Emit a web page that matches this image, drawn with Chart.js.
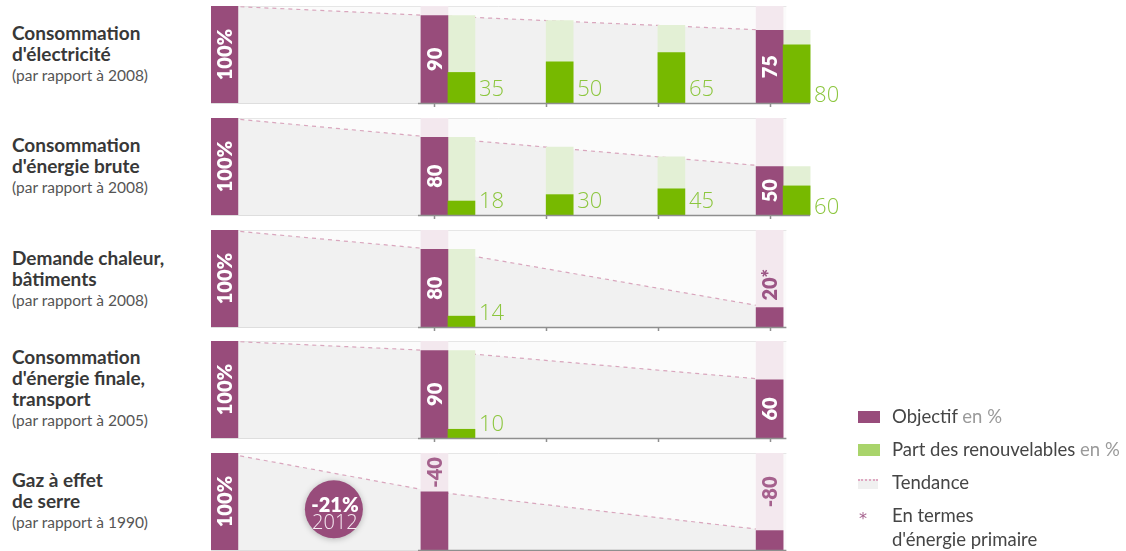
<!DOCTYPE html>
<html>
<head>
<meta charset="utf-8">
<script src="https://cdn.jsdelivr.net/npm/chart.js@4/dist/chart.umd.min.js"></script>
<style>
  body { margin: 0; background: #fff; width: 1126px; height: 551px; overflow: hidden; position: relative; font-family: Lato, "DejaVu Sans", sans-serif; }
  .lbl { position: absolute; left: 12px; color: #383838; }
  .lbl b { display: block; font-weight: bold; font-size: 19px; line-height: 21px; }
  .lbl span { display: block; font-size: 15.5px; line-height: 23px; color: #555; }
  .panel { position: absolute; left: 211px; width: 648px; height: 103px; }
  .legend { position: absolute; left: 858px; top: 404px; font-size: 18.5px; color: #454545; }
  .legend div { position: relative; height: 33px; line-height: 24px; padding-left: 34px; }
  .legend i { position: absolute; left: 0; top: 7px; width: 22px; height: 12px; }
  .legend em { font-style: normal; color: #9a9a9a; }
  .legend i.star { color: #a5618d; top: 4px; left: 1px; width: 12px; font: 16px/24px "DejaVu Sans"; background: none; }
</style>
</head>
<body>
<div id="root"></div>
<div class="legend">
  <div><i style="background:#984c7b"></i>Objectif <em>en %</em></div>
  <div><i style="background:#a9d46b"></i>Part des renouvelables <em>en %</em></div>
  <div><i style="background:#f0f0f0;height:8px;top:9px;border-top:2px dotted #e0a8c2;width:20px"></i>Tendance</div>
  <div><i class="star">*</i>En termes<br>d'énergie primaire</div>
</div>
<script>
// slots: base year (100 %), 2020, 2030, 2040, 2050
const slotX = [2001.2, 2020, 2030, 2040, 2050];
const tickYears = [2020, 2030, 2040, 2050];

const titres = [
  ['Consommation', "d'électricité"],
  ['Consommation', "d'énergie brute"],
  ['Demande chaleur,', 'bâtiments'],
  ['Consommation', "d'énergie finale,", 'transport'],
  ['Gaz à effet', 'de serre']
];
const references = ['(par rapport à 2008)', '(par rapport à 2008)', '(par rapport à 2008)', '(par rapport à 2005)', '(par rapport à 1990)'];

const objectifElec = [100, 90, null, null, 75];
const tendanceElec = [100, 90, 85, 80, 75];
const renouvElec = [null, 35, 50, 65, 80];

const objectifBrute = [100, 80, null, null, 50];
const tendanceBrute = [100, 80, 70, 60, 50];
const renouvBrute = [null, 18, 30, 45, 60];

const objectifChaleur = [100, 80, null, null, 20];
const tendanceChaleur = [100, 80, null, null, 20];
const renouvChaleur = [null, 14, null, null, null];
const etiquettesChaleur = ['100%', '80', null, null, '20*'];

const objectifTransport = [100, 90, null, null, 60];
const tendanceTransport = [100, 90, null, null, 60];
const renouvTransport = [null, 10, null, null, null];

const objectifGes = [100, 60, null, null, 20];
const tendanceGes = [100, 60, null, null, 20];
const etiquettesGes = ['100%', '-40', null, null, '-80'];
const gesPoint2012 = [{ x: 2011, y: 42 }];
const gesTexte2012 = ['-21%', '2012'];

const panneaux = [
  { obj: objectifElec, tend: tendanceElec, ren: renouvElec },
  { obj: objectifBrute, tend: tendanceBrute, ren: renouvBrute },
  { obj: objectifChaleur, tend: tendanceChaleur, ren: renouvChaleur, labels: etiquettesChaleur },
  { obj: objectifTransport, tend: tendanceTransport, ren: renouvTransport },
  { obj: objectifGes, tend: tendanceGes, ren: [null, null, null, null, null], labels: etiquettesGes, dessus: true, bulle: gesPoint2012 }
];

const panelTops = [6, 118, 230, 341, 453];
const labelTops = [22, 134, 247, 346, 469];

const PURPLE = '#984c7b';
const BAR = 27;
const X_MIN = 2000, X_MAX = 2058, X_PANEL_END = 2051.5;
const BOLD_FONT = '800 20px Lato';

const root = document.getElementById('root');

// offset of the green bar: beside the purple bar, or starting at the tick
function greenX(i, obj) {
  const w = BAR * (X_MAX - X_MIN) / 648;
  return slotX[i] + (obj[i] != null ? w : w / 2);
}

const decorPlugin = {
  id: 'decor',
  beforeDatasetsDraw(chart) {
    const { ctx, chartArea: a, scales: { x } } = chart;
    const right = x.getPixelForValue(X_PANEL_END);
    ctx.save();
    ctx.fillStyle = '#fbfbfb';
    ctx.fillRect(a.left, a.top, right - a.left, a.bottom - a.top);
    ctx.strokeStyle = '#e6e6e6';
    ctx.lineWidth = 1;
    ctx.beginPath();
    ctx.moveTo(a.left, a.top + 0.5);
    ctx.lineTo(right, a.top + 0.5);
    ctx.stroke();
    ctx.restore();
  },
  afterDatasetsDraw(chart) {
    const { ctx, chartArea: a, scales: { x, y } } = chart;
    const p = chart.options.plugins.decor;
    const half = BAR / 2;
    ctx.save();
    // bottom axis
    const axisStart = x.getPixelForValue(2020) - half - 3;
    let axisEnd = x.getPixelForValue(X_PANEL_END);
    p.ren.forEach((v, i) => {
      if (v != null) axisEnd = Math.max(axisEnd, x.getPixelForValue(greenX(i, p.obj)) + half);
    });
    ctx.strokeStyle = '#dedede';
    ctx.lineWidth = 1;
    ctx.beginPath();
    ctx.moveTo(a.left, a.bottom + 0.5);
    ctx.lineTo(axisStart, a.bottom + 0.5);
    ctx.stroke();
    ctx.strokeStyle = '#8f8f8f';
    ctx.lineWidth = 1.5;
    ctx.beginPath();
    ctx.moveTo(axisStart, a.bottom + 0.5);
    ctx.lineTo(axisEnd, a.bottom + 0.5);
    tickYears.forEach(t => {
      const px = Math.round(x.getPixelForValue(t)) + 0.5;
      ctx.moveTo(px, a.bottom);
      ctx.lineTo(px, a.bottom + 4);
    });
    ctx.stroke();

    // objective labels
    ctx.textBaseline = 'middle';
    ctx.textAlign = 'center';
    p.obj.forEach((v, i) => {
      if (v == null) return;
      const txt = p.labels ? p.labels[i] : (i === 0 ? '100%' : String(v));
      const cx = x.getPixelForValue(slotX[i]);
      const top = y.getPixelForValue(v);
      ctx.font = BOLD_FONT;
      const len = ctx.measureText(txt).width;
      let cy, col;
      if (i === 0 || (!p.dessus && a.bottom - top > len + 10)) {
        cy = (top + a.bottom) / 2;
        col = '#ffffff';
      } else if (p.dessus) {
        cy = (a.top + top) / 2;
        col = '#a5618d';
      } else {
        cy = top - 7 - len / 2;
        col = '#9c5585';
      }
      ctx.save();
      ctx.translate(cx + 1, cy);
      ctx.rotate(-Math.PI / 2);
      ctx.fillStyle = col;
      ctx.fillText(txt, 0, 0);
      ctx.restore();
    });

    // renewable share labels
    ctx.textAlign = 'left';
    ctx.textBaseline = 'alphabetic';
    ctx.font = '300 22px "Open Sans"';
    ctx.fillStyle = '#8cc63e';
    p.ren.forEach((v, i) => {
      if (v == null) return;
      const px = x.getPixelForValue(greenX(i, p.obj)) + half + 4;
      const base = i === 4 ? a.bottom - 1 : a.bottom - 7;
      ctx.fillText(String(v), px, base);
    });

    // 2012 bubble text
    if (p.bulle) {
      const bx = x.getPixelForValue(p.bulle[0].x);
      const by = y.getPixelForValue(p.bulle[0].y);
      ctx.textAlign = 'center';
      ctx.fillStyle = '#ffffff';
      ctx.font = BOLD_FONT;
      ctx.fillText(gesTexte2012[0], bx + 1, by + 3);
      ctx.font = '300 20px "Open Sans"';
      ctx.fillStyle = '#f6eaf2';
      ctx.fillText(gesTexte2012[1], bx + 1, by + 20);
    }
    ctx.restore();
  }
};

const shadowPlugin = {
  id: 'ombre',
  beforeDatasetDraw(chart, args) {
    if (args.meta.type !== 'bubble') return;
    chart.ctx.save();
    chart.ctx.shadowColor = 'rgba(0,0,0,0.25)';
    chart.ctx.shadowBlur = 6;
    chart.ctx.shadowOffsetY = 1;
  },
  afterDatasetDraw(chart, args) {
    if (args.meta.type !== 'bubble') return;
    chart.ctx.restore();
  }
};

function pts(arr, fx) {
  const out = [];
  arr.forEach((v, i) => { if (v != null) out.push({ x: fx(i), y: v }); });
  return out;
}

function build() {
  panneaux.forEach((p, k) => {
    const lbl = document.createElement('div');
    lbl.className = 'lbl';
    lbl.style.top = labelTops[k] + 'px';
    lbl.innerHTML = '<b>' + titres[k].join('<br>') + '</b><span>' + references[k] + '</span>';
    root.appendChild(lbl);

    const box = document.createElement('div');
    box.className = 'panel';
    box.style.top = panelTops[k] + 'px';
    const cv = document.createElement('canvas');
    box.appendChild(cv);
    root.appendChild(box);

    const trendAt = i => p.tend[i] != null ? p.tend[i] : p.obj[i];
    const gx = i => greenX(i, p.obj);

    const datasets = [
      {
        type: 'line', order: 9,
        data: pts(p.tend, i => slotX[i]),
        borderColor: '#d9a6bd', borderWidth: 1.2, borderDash: [4, 4],
        fill: 'origin', backgroundColor: '#f1f1f1',
        pointRadius: 0, tension: 0
      },
      {
        order: 8, grouped: false, barThickness: BAR,
        data: pts(p.obj.map((v, i) => (v != null && i > 0) ? 100 : null), i => slotX[i]),
        backgroundColor: '#f3e8ee'
      },
      {
        order: 7, grouped: false, barThickness: BAR,
        data: pts(p.ren.map((v, i) => v != null ? trendAt(i) : null), gx),
        backgroundColor: '#e3f0d5'
      },
      {
        order: 6, grouped: false, barThickness: BAR,
        data: pts(p.obj, i => slotX[i]),
        backgroundColor: PURPLE
      },
      {
        order: 5, grouped: false, barThickness: BAR,
        data: pts(p.ren.map((v, i) => v != null ? trendAt(i) * v / 100 : null), gx),
        backgroundColor: '#77b900'
      }
    ];
    if (p.bulle) {
      datasets.push({
        type: 'bubble', order: 1, data: p.bulle,
        radius: 29, backgroundColor: PURPLE, borderWidth: 0
      });
    }

    new Chart(cv, {
      type: 'bar',
      data: { datasets },
      options: {
        responsive: true,
        maintainAspectRatio: false,
        animation: false,
        events: [],
        layout: { autoPadding: false, padding: { top: 0, bottom: 6, left: 0, right: 0 } },
        scales: {
          x: { type: 'linear', min: X_MIN, max: X_MAX, offset: false, display: false },
          y: { min: 0, max: 100, display: false }
        },
        plugins: {
          legend: { display: false },
          tooltip: { enabled: false },
          decor: p
        }
      },
      plugins: [decorPlugin, shadowPlugin]
    });
  });
}

Promise.all([
  document.fonts.load(BOLD_FONT),
  document.fonts.load('300 22px "Open Sans"')
]).then(build, build);
</script>
</body>
</html>
